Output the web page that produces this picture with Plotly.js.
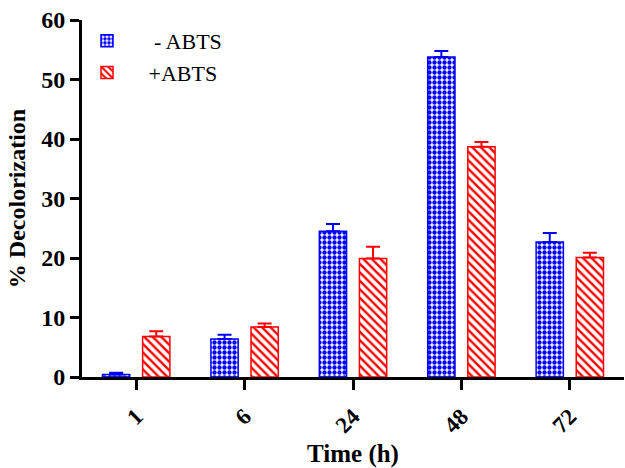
<!DOCTYPE html>
<html>
<head>
<meta charset="utf-8">
<script src="https://cdn.plot.ly/plotly-3.0.1.min.js"></script>
<style>html,body{margin:0;padding:0;background:#fff;}#chart{width:625px;height:468px;}</style>
</head>
<body>
<div id="chart"></div>
<script>
const categories = ['1', '6', '24', '48', '72'];
const minusABTS = [0.4, 6.4, 24.5, 53.8, 22.7];
const minusABTSErr = [0.3, 0.7, 1.2, 1.0, 1.5];
const plusABTS = [6.8, 8.4, 19.9, 38.7, 20.1];
const plusABTSErr = [0.9, 0.6, 2.0, 0.8, 0.8];
const seriesNames = ['    - ABTS', '   +ABTS'];

const serif = 'Liberation Serif';

const traces = [
  {
    type: 'bar', x: categories, y: minusABTS, name: seriesNames[0],
    marker: {color: '#ffffff', line: {color: '#0000ff', width: 1.5},
      pattern: {shape: '.', fgcolor: '#0000ff', bgcolor: '#ffffff', fgopacity: 1, size: 5, solidity: 0.6, fillmode: 'replace'}},
    error_y: {type: 'data', symmetric: false, array: minusABTSErr, arrayminus: [0,0,0,0,0], color: '#0000ff', thickness: 2, width: 7}
  },
  {
    type: 'bar', x: categories, y: plusABTS, name: seriesNames[1],
    marker: {color: '#ffffff', line: {color: '#ff0000', width: 1.5},
      pattern: {shape: '\\', fgcolor: '#ff0000', bgcolor: '#ffffff', fgopacity: 1, size: 6, solidity: 0.4, fillmode: 'replace'}},
    error_y: {type: 'data', symmetric: false, array: plusABTSErr, arrayminus: [0,0,0,0,0], color: '#ff0000', thickness: 2, width: 7}
  }
];

const layout = {
  width: 625, height: 468,
  margin: {l: 82, r: 1, t: 20, b: 91},
  paper_bgcolor: '#fff', plot_bgcolor: '#fff',
  barmode: 'group', bargap: 0.26, bargroupgap: 0.32,
  showlegend: true,
  font: {family: serif},
  legend: {x: 0.0, y: 1.0, xanchor: 'left', yanchor: 'top', bgcolor: 'rgba(0,0,0,0)',
    font: {family: serif, size: 22, color: '#000'}, tracegroupgap: 0, itemwidth: 40},
  xaxis: {
    type: 'category', range: [-0.5, 4.5],
    showline: true, linecolor: '#000', linewidth: 3, mirror: false,
    ticks: 'outside', ticklen: 10, tickwidth: 3, tickcolor: '#000',
    tickangle: -45, showgrid: false, zeroline: false, ticklabelstandoff: 4,
    tickfont: {family: serif, size: 23, color: '#000', weight: 'bold'},
    title: {text: 'Time (h)', font: {family: serif, size: 25, color: '#000', weight: 'bold'}, standoff: 14}
  },
  yaxis: {
    range: [0, 60], tickvals: [0, 10, 20, 30, 40, 50, 60],
    showline: true, linecolor: '#000', linewidth: 3,
    ticks: 'outside', ticklen: 9, tickwidth: 3, tickcolor: '#000',
    showgrid: false, zeroline: false,
    tickfont: {family: serif, size: 24, color: '#000', weight: 'bold'},
    title: {text: '% Decolorization', font: {family: serif, size: 24, color: '#000', weight: 'bold'}, standoff: 9}
  }
};

Plotly.newPlot('chart', traces, layout, {displayModeBar: false, staticPlot: true});
</script>
</body>
</html>
